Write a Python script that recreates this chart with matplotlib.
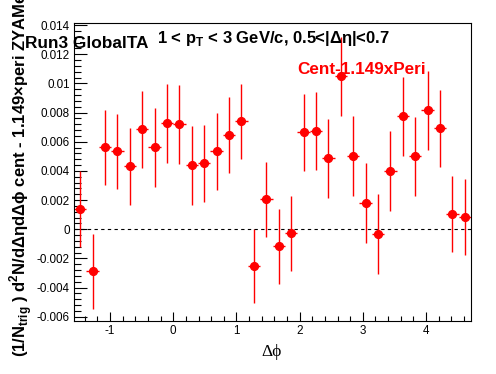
import numpy as np
import matplotlib
matplotlib.use("Agg")
from matplotlib import pyplot as plt
from matplotlib.ticker import MultipleLocator, FuncFormatter

plt.rcParams["font.family"] = ["Liberation Sans", "DejaVu Sans"]
plt.rcParams["mathtext.fontset"] = "custom"
plt.rcParams["mathtext.rm"] = "Liberation Sans:bold"
plt.rcParams["mathtext.bf"] = "Liberation Sans:bold"

# 32 bins in delta phi, from -pi/2 to 3pi/2
n_bins = 32
phi_range = (-np.pi / 2, 3 * np.pi / 2)

# per-bin yields (cent - 1.149 x peri)
yields = [1.39, -2.87, 5.62, 5.34, 4.32, 6.85, 5.62, 7.26, 7.20, 4.38,
          4.54, 5.34, 6.48, 7.40, -2.53, 2.05, -1.16, -0.27, 6.64, 6.73,
          4.87, 10.48, 5.00, 1.78, -0.34, 3.99, 7.75, 5.00, 8.15, 6.92,
          1.03, 0.82]
errors = [2.58, 2.57, 2.56, 2.56, 2.63, 2.63, 2.70, 2.72, 2.72, 2.70,
          2.64, 2.62, 2.60, 2.57, 2.55, 2.56, 2.56, 2.58, 2.64, 2.67,
          2.70, 2.70, 2.74, 2.74, 2.76, 2.73, 2.71, 2.72, 2.70, 2.63,
          2.60, 2.60]
yields = np.array(yields) * 1e-3
errors = np.array(errors) * 1e-3

edges = np.linspace(phi_range[0], phi_range[1], n_bins + 1)
centers = 0.5 * (edges[1:] + edges[:-1])
half_width = 0.5 * (edges[1] - edges[0])

W, H = 496, 374
fig = plt.figure(figsize=(W / 100, H / 100), dpi=100)
ax = fig.add_axes([74 / W, 1 - 320.7 / H, (471 - 74) / W, (320.7 - 22.7) / H])

ax.errorbar(centers, yields, yerr=errors, xerr=half_width, fmt="o",
            color="red", ms=5.6, elinewidth=1.0, capsize=0)
ax.axhline(0, color="black", lw=0.8, ls=(0, (3, 3)))

ax.set_xlim(*phi_range)
ax.set_ylim(-0.00627, 0.01416)

ax.xaxis.set_major_locator(MultipleLocator(1))
ax.xaxis.set_minor_locator(MultipleLocator(0.2))
ax.yaxis.set_major_locator(MultipleLocator(0.002))
ax.yaxis.set_minor_locator(MultipleLocator(0.0004))
fmt = FuncFormatter(lambda v, p: "%g" % round(v, 6))
ax.xaxis.set_major_formatter(fmt)
ax.yaxis.set_major_formatter(fmt)

ax.tick_params(axis="both", which="both", direction="in",
               top=False, right=False, labelsize=8.4, width=0.8)
ax.tick_params(axis="y", which="major", length=9.4, pad=3)
ax.tick_params(axis="y", which="minor", length=5)
ax.tick_params(axis="x", which="major", length=6.5, pad=3)
ax.tick_params(axis="x", which="minor", length=3.3)
for s in ax.spines.values():
    s.set_linewidth(0.8)

# labels and captions
fig.text(25 / W, 1 - 47.7 / H, "Run3 GlobalTA", fontsize=12.4,
         fontweight="bold", ha="left", va="baseline")
fig.text(157 / W, 1 - 43 / H, r"1 < p$_{\mathrm{T}}$ < 3 GeV/c, 0.5<|Δη|<0.7",
         fontsize=12.0, fontweight="bold", ha="left", va="baseline")
fig.text(297 / W, 1 - 74 / H, "Cent-1.149xPeri", fontsize=12.3,
         fontweight="bold", color="red", ha="left", va="baseline")
fig.text(272 / W, 1 - 356 / H, "Δϕ", fontsize=12.5,
         family=["Liberation Serif", "DejaVu Serif"], ha="center", va="baseline")
# the reference y title runs past the top edge of the canvas, as here
fig.text(26.5 / W, 1 - 357 / H,
         r"(1/N$_{\mathrm{trig}}$ ) d$^{\mathrm{2}}$N/dΔηdΔϕ cent - 1.149×peri ZYAMed",
         fontsize=12.0, fontweight="bold", rotation=90, rotation_mode="anchor",
         ha="left", va="baseline")

fig.savefig("out.png", dpi=100)
